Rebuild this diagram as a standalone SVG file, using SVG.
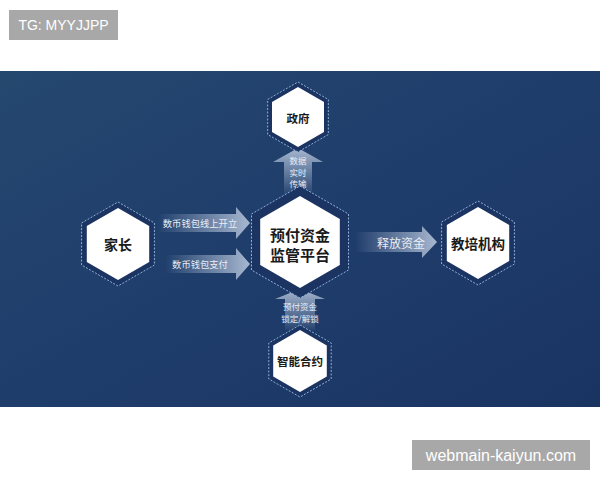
<svg xmlns="http://www.w3.org/2000/svg" width="600" height="480" viewBox="0 0 600 480">
<defs>
<linearGradient id="bg" x1="0" y1="0" x2="1" y2="1">
<stop offset="0" stop-color="#25486f"/>
<stop offset="0.5" stop-color="#1f3d6b"/>
<stop offset="1" stop-color="#1a3462"/>
</linearGradient>
<linearGradient id="gr" x1="0" y1="0" x2="1" y2="0">
<stop offset="0" stop-color="#c9d6ea" stop-opacity="0"/>
<stop offset="1" stop-color="#c9d6ea" stop-opacity="0.8"/>
</linearGradient>
<linearGradient id="gu" x1="0" y1="1" x2="0" y2="0">
<stop offset="0" stop-color="#c9d6ea" stop-opacity="0.05"/>
<stop offset="1" stop-color="#c9d6ea" stop-opacity="0.8"/>
</linearGradient>
</defs>
<style>
.outer{fill:#1b3461;stroke:#8fb0dc;stroke-width:1;stroke-dasharray:2 1.5}
.inner{fill:#ffffff}
.cjk{font-family:"Noto Sans CJK SC","Noto Sans",sans-serif}
.nt{fill:#1a1a1a;font-weight:bold;text-anchor:middle;dominant-baseline:central}
.at{fill:#e8eef7;text-anchor:middle;dominant-baseline:central}
.lbl{font-family:"Liberation Sans",Arial,sans-serif;fill:#ffffff}
</style>
<rect width="600" height="480" fill="#ffffff"/>
<rect x="9" y="10" width="109" height="30" fill="#a8a8a8"/>
<text class="lbl" x="63.5" y="30" font-size="14" text-anchor="middle">TG: MYYJJPP</text>
<rect x="0" y="71" width="600" height="336" fill="url(#bg)"/>
<g id="connectors">
<polygon points="158,214 236,214 236,207 250,223 236,239 236,232 158,232" fill="url(#gr)"/>
<text class="cjk at" x="200" y="223" font-size="9.3">数币钱包线上开立</text>
<polygon points="165,255 236,255 236,248 250,264 236,280 236,273 165,273" fill="url(#gr)"/>
<text class="cjk at" x="200" y="264" font-size="9.3">数币钱包支付</text>
<polygon points="355,232 422,232 422,226 437,242 422,258 422,252 355,252" fill="url(#gr)"/>
<text class="cjk at" x="401" y="242" font-size="12">释放资金</text>
<polygon points="298,148 323,162 312,162 312,194 284,194 284,162 273,162" fill="url(#gu)"/>
<text class="cjk at" x="298" y="160" font-size="8.5">数据</text>
<text class="cjk at" x="298" y="171.5" font-size="8.5">实时</text>
<text class="cjk at" x="298" y="183" font-size="8.5">传输</text>
<polygon points="300,289 325,299 315,299 315,330 285,330 285,299 275,299" fill="url(#gu)"/>
<text class="cjk at" x="300" y="306" font-size="8.5">预付资金</text>
<text class="cjk at" x="300" y="317.5" font-size="8.5">锁定/解锁</text>
</g>
<g id="zhengfu">
<polygon class="outer" points="298,82 328.3,99.5 328.3,134.5 298,152 267.7,134.5 267.7,99.5"/>
<polygon class="inner" points="298,87 324,102 324,132 298,147 272,132 272,102"/>
<text class="cjk nt" x="298" y="118" font-size="11.5">政府</text>
</g>
<g id="jiazhang">
<polygon class="outer" points="118,202 154.4,223 154.4,265 118,286 81.6,265 81.6,223"/>
<polygon class="inner" points="118,208 149.2,226 149.2,262 118,280 86.8,262 86.8,226"/>
<text class="cjk nt" x="118" y="244" font-size="14">家长</text>
</g>
<g id="platform">
<polygon class="outer" points="300,186 348.5,214 348.5,270 300,298 251.5,270 251.5,214"/>
<polygon class="inner" points="300,196 339.8,219 339.8,265 300,288 260.2,265 260.2,219"/>
<text class="cjk nt" x="300" y="234" font-size="15">预付资金</text>
<text class="cjk nt" x="300" y="254" font-size="15">监管平台</text>
</g>
<g id="jiaopei">
<polygon class="outer" points="478,201 514.4,222 514.4,264 478,285 441.6,264 441.6,222"/>
<polygon class="inner" points="478,207 509.2,225 509.2,261 478,279 446.8,261 446.8,225"/>
<text class="cjk nt" x="478" y="243" font-size="13.5">教培机构</text>
</g>
<g id="heyue">
<polygon class="outer" points="300,325 331.2,343 331.2,379 300,397 268.8,379 268.8,343"/>
<polygon class="inner" points="300,330 326.8,345.5 326.8,376.5 300,392 273.2,376.5 273.2,345.5"/>
<text class="cjk nt" x="300" y="361" font-size="11.5">智能合约</text>
</g>
<rect x="412" y="440" width="178" height="30" fill="#a8a8a8"/>
<text class="lbl" x="501" y="461" font-size="16" text-anchor="middle">webmain-kaiyun.com</text>
</svg>
